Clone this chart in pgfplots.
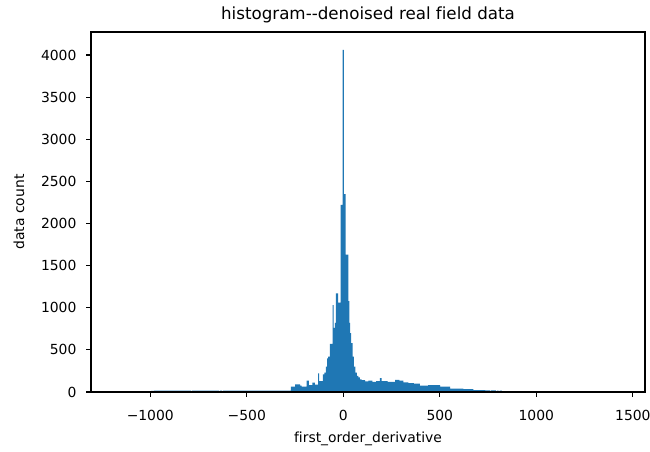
\documentclass[border=0pt]{standalone}
\usepackage{fontspec}
\setmainfont{DejaVu Sans}[Ligatures={CommonOff,TeXOff}]
\usepackage{pgfplots}
\pgfplotsset{compat=1.18}
\definecolor{mplblue}{HTML}{1F77B4}
\begin{document}
\begin{tikzpicture}
\useasboundingbox (0,0) rectangle (650pt,451pt);
\begin{axis}[
  at={(91pt,59pt)}, anchor=south west,
  scale only axis, width=554pt, height=360pt,
  xmin=-1307, xmax=1563, ymin=0, ymax=4273,
  xtick={-1000,-500,0,500,1000,1500},
  xticklabels={−1000,−500,0,500,1000,1500},
  ytick={0,500,1000,1500,2000,2500,3000,3500,4000},
  yticklabels={0,500,1000,1500,2000,2500,3000,3500,4000},
  tick pos=left,
  tick align=outside,
  major tick length=4.86pt,
  every tick/.style={black, line width=1.1pt},
  axis line style={black, line width=1.1pt},
  tick label style={font=\fontsize{13.9}{16}\selectfont, inner sep=0pt},
  xticklabel style={anchor=north, yshift=-13pt},
  yticklabel style={anchor=east, xshift=-9.5pt},
  title={histogram--denoised real field data},
  every axis title/.style={at={(axis description cs:0.5,1)}, anchor=base, yshift=13pt, font=\fontsize{16.7}{20}\selectfont, inner sep=0pt},
  xlabel={first\_order\_derivative},
  every axis x label/.style={at={(axis description cs:0.5,0)}, anchor=base, yshift=-50pt, font=\fontsize{13.9}{16}\selectfont, inner sep=0pt},
  ylabel={data count},
  every axis y label/.style={at={(axis description cs:0,0.5)}, xshift=-66.5pt, rotate=90, anchor=south, font=\fontsize{13.9}{16}\selectfont, inner sep=0pt},
  axis on top,
]
\addplot[fill=mplblue, draw=none, const plot] coordinates {
(-995,12) (-980,16) (-790,0) (-785,16) (-645,0) (-640,15) (-628,0) (-623,17)
(-271,63) (-250,91) (-224,75) (-216,63) (-190,134) (-178,83) (-160,110) (-147,88)
(-130,220) (-125,130) (-106,210) (-98,230) (-90,300) (-84,400) (-78,420) (-69,570)
(-55,1030) (-50,760) (-44,820) (-38,1170) (-27,1060) (-14,2220) (-3,4060) (3,2350)
(12,1630) (26,1080) (31,820) (36,700) (41,580) (48,420) (55,300) (62,230)
(70,190) (78,175) (86,150) (95,140) (113,125) (130,135) (150,120) (170,130)
(190,164) (199,128) (230,120) (268,145) (290,135) (311,115) (337,105) (365,100)
(397,75) (440,83) (501,65) (553,40) (622,35) (674,22) (735,20) (760,0)
(765,18) (790,0) (795,15) (805,0) (810,15) (821,0) (935,10) (941,0)
(1030,10) (1036,0)
} \closedcycle;
\end{axis}
\end{tikzpicture}
\end{document}
